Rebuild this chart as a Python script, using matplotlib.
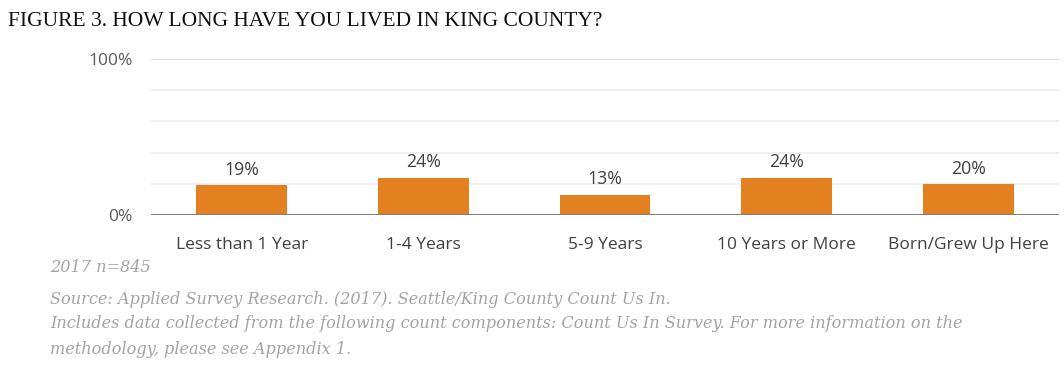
import matplotlib.pyplot as plt
import numpy as np

categories = ['Less than 1 Year', '1-4 Years', '5-9 Years', '10 Years or More', 'Born/Grew Up Here']
values = [19, 24, 13, 24, 20]
value_labels = ['19%', '24%', '13%', '24%', '20%']
yticks = [0, 20, 40, 60, 80, 100]
ytick_labels = ['0%', '', '', '', '', '100%']

title = 'FIGURE 3. HOW LONG HAVE YOU LIVED IN KING COUNTY?'
note_n = '2017 n=845'
source_lines = ['Source: Applied Survey Research. (2017). Seattle/King County Count Us In.',
                'Includes data collected from the following count components: Count Us In Survey. For more information on the',
                'methodology, please see Appendix 1.']

ORANGE = '#e38020'
TXT = '#404040'
NOTE = '#a3a3a3'
sans = ['Open Sans', 'DejaVu Sans']
serif = ['DejaVu Serif']

W, H = 1064, 373
fig = plt.figure(figsize=(W / 100, H / 100), dpi=100)
fig.patch.set_facecolor('white')
ax = fig.add_axes([151 / W, (H - 215) / H, (1059 - 151) / W, (215 - 59) / H])

x = np.arange(len(categories))
ax.bar(x, values, width=0.5, color=ORANGE, zorder=3)
ax.set_xlim(-0.5, len(categories) - 0.5)
ax.set_ylim(0, 100)

# light gridlines every 20%, darker baseline at 0
for yv in yticks[1:]:
    ax.axhline(yv, color='#d9d9d9' if yv == 100 else '#ececec', lw=1.2, zorder=1)
ax.axhline(0, color='#808080', lw=2.2, zorder=4)

for xi, v, lab in zip(x, values, value_labels):
    ax.text(xi, v + 4, lab, ha='center', va='bottom', fontsize=12.8, color=TXT, family=sans)

ax.set_yticks(yticks)
ax.set_yticklabels(ytick_labels, fontsize=12.5, color='#595959', family=sans)
ax.set_xticks(x)
ax.set_xticklabels(categories, fontsize=12.5, color=TXT, family=sans)
ax.tick_params(axis='both', length=0)
ax.tick_params(axis='y', pad=13)
ax.tick_params(axis='x', pad=16)
for s in ax.spines.values():
    s.set_visible(False)

fig.text(8 / W, 1 - 22 / H, title, fontsize=15.5, color='#111111', family=['Liberation Serif', 'DejaVu Serif'],
         va='center', ha='left')
fig.text(50 / W, 1 - 268 / H, note_n, fontsize=11.6, color=NOTE, family=serif, style='italic', va='center')
for i, line in enumerate(source_lines):
    fig.text(50 / W, 1 - (299 + 25 * i) / H, line, fontsize=11.6, color=NOTE, family=serif,
             style='italic', va='center')

fig.savefig('out.png', dpi=100)
